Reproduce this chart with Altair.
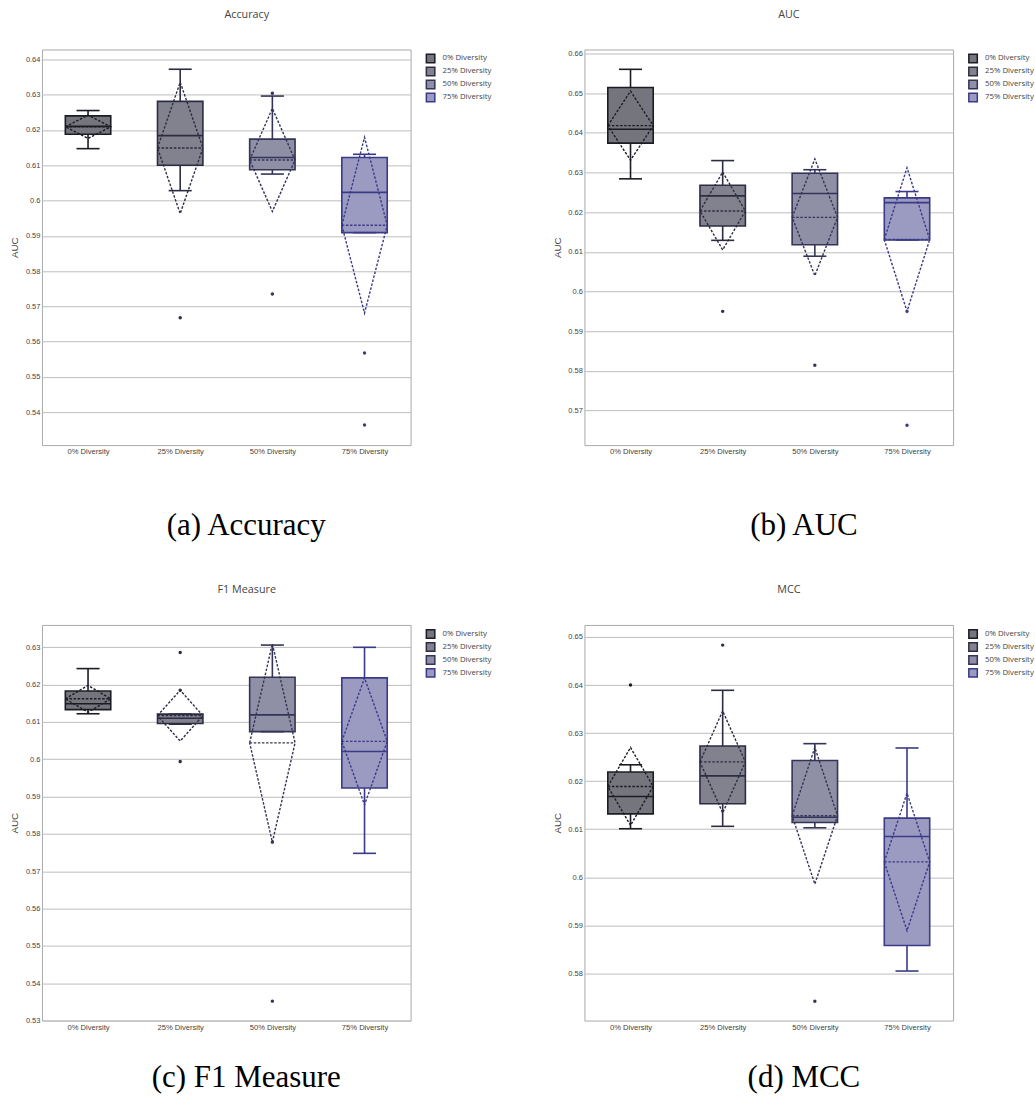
import json
import altair as alt
import pandas as pd

# ---------------- data ----------------
CATEGORIES = ["0% Diversity", "25% Diversity", "50% Diversity", "75% Diversity"]

# Accuracy
ACC_LOWER = [0.6147, 0.6028, 0.6075, 0.5909]
ACC_Q1 = [0.6188, 0.6100, 0.6087, 0.5909]
ACC_MEDIAN = [0.6210, 0.6184, 0.6122, 0.6023]
ACC_Q3 = [0.6240, 0.6281, 0.6174, 0.6122]
ACC_UPPER = [0.6255, 0.6372, 0.6296, 0.6131]
ACC_MEAN = [0.6209, 0.6149, 0.6115, 0.5930]
ACC_SD = [0.0033, 0.0186, 0.0146, 0.0249]
ACC_OUT_GROUP = [1, 2, 2, 3, 3]
ACC_OUT_VALUE = [0.5668, 0.6304, 0.5735, 0.5568, 0.5364]

# AUC
AUC_LOWER = [0.6284, 0.6129, 0.6089, 0.6130]
AUC_Q1 = [0.6374, 0.6165, 0.6118, 0.6130]
AUC_MEDIAN = [0.6409, 0.6241, 0.6247, 0.6224]
AUC_Q3 = [0.6514, 0.6268, 0.6298, 0.6236]
AUC_UPPER = [0.6560, 0.6330, 0.6307, 0.6252]
AUC_MEAN = [0.6418, 0.6203, 0.6187, 0.6131]
AUC_SD = [0.0087, 0.0098, 0.0147, 0.0181]
AUC_OUT_GROUP = [1, 2, 3, 3]
AUC_OUT_VALUE = [0.5950, 0.5814, 0.5950, 0.5663]

# F1 Measure
F1_LOWER = [0.6122, 0.6094, 0.6074, 0.5748]
F1_Q1 = [0.6133, 0.6096, 0.6074, 0.5923]
F1_MEDIAN = [0.6149, 0.6110, 0.6119, 0.6021]
F1_Q3 = [0.6183, 0.6121, 0.6220, 0.6218]
F1_UPPER = [0.6243, 0.6121, 0.6306, 0.6300]
F1_MEAN = [0.6162, 0.6117, 0.6044, 0.6048]
F1_SD = [0.0036, 0.0068, 0.0266, 0.0170]
F1_OUT_GROUP = [1, 1, 1, 2, 2]
F1_OUT_VALUE = [0.6286, 0.6185, 0.5994, 0.5778, 0.5352]

# MCC
MCC_LOWER = [0.6101, 0.6106, 0.6103, 0.5805]
MCC_Q1 = [0.6132, 0.6153, 0.6114, 0.5858]
MCC_MEDIAN = [0.6168, 0.6211, 0.6125, 0.6085]
MCC_Q3 = [0.6219, 0.6273, 0.6243, 0.6123]
MCC_UPPER = [0.6234, 0.6389, 0.6278, 0.6269]
MCC_MEAN = [0.6189, 0.6240, 0.6128, 0.6032]
MCC_SD = [0.0081, 0.0106, 0.0142, 0.0143]
MCC_OUT_GROUP = [0, 1, 2]
MCC_OUT_VALUE = [0.6400, 0.6483, 0.5742]

ACC_TICKS = [0.54, 0.55, 0.56, 0.57, 0.58, 0.59, 0.60, 0.61, 0.62, 0.63, 0.64]
AUC_TICKS = [0.57, 0.58, 0.59, 0.60, 0.61, 0.62, 0.63, 0.64, 0.65, 0.66]
F1_TICKS = [0.53, 0.54, 0.55, 0.56, 0.57, 0.58, 0.59, 0.60, 0.61, 0.62, 0.63]
MCC_TICKS = [0.58, 0.59, 0.60, 0.61, 0.62, 0.63, 0.64, 0.65]

ACC_DOMAIN = [0.5307, 0.6428]
AUC_DOMAIN = [0.5613, 0.6610]
F1_DOMAIN = [0.5300, 0.6360]
MCC_DOMAIN = [0.5702, 0.6525]

TITLES = ["Accuracy", "AUC", "F1 Measure", "MCC"]
CAPTIONS = ["(a) Accuracy", "(b) AUC", "(c) F1 Measure", "(d) MCC"]
Y_TITLE = "AUC"

# ---------------- styles ----------------
LINE_COLORS = ["#1c1c24", "#2c2c42", "#343458", "#3a3a88"]
FILL_COLORS = ["#75757d", "#82828f", "#8f8fa6", "#9b9bc2"]
HALF = 0.2464   # half box width, in category units
CAP = 0.125     # half whisker-cap width
PANEL_W, PANEL_H = 369, 396
TEXT_GREY = "#444444"
DASH = [2.5, 1.6]


def panel(title, caption, lower, q1, med, q3, upper, mean, sd, out_g, out_v,
          domain, ticks, title_x, cap_x, cap_y, anchor=False):
    idx = list(range(len(CATEGORIES)))
    boxes = pd.DataFrame({"group": CATEGORIES, "i": idx, "lower": lower, "q1": q1,
                          "median": med, "q3": q3, "upper": upper,
                          "mean": mean, "sd": sd})
    boxes["xl"] = boxes["i"] - HALF
    boxes["xr"] = boxes["i"] + HALF
    boxes["cl"] = boxes["i"] - CAP
    boxes["cr"] = boxes["i"] + CAP
    boxes["line"] = LINE_COLORS

    rows = []
    for _, r in boxes.iterrows():
        pts = [(r.xl, r["mean"]), (r.i, r["mean"] + r.sd), (r.xr, r["mean"]),
               (r.i, r["mean"] - r.sd), (r.xl, r["mean"])]
        for k, (xx, yy) in enumerate(pts):
            rows.append({"group": r.group, "k": k, "x": xx, "y": yy, "line": r.line})
    diamond = pd.DataFrame(rows)

    outl = pd.DataFrame({"i": out_g, "v": out_v})
    outl["line"] = [LINE_COLORS[g] for g in out_g]

    xscale = alt.Scale(domain=[-0.5, len(CATEGORIES) - 0.5], nice=False, zero=False)
    yscale = alt.Scale(domain=domain, nice=False, zero=False)
    label_expr = json.dumps(CATEGORIES) + "[datum.value]"
    xaxis = alt.Axis(values=idx, labelExpr=label_expr, grid=False, ticks=False,
                     domain=False, labelPadding=2.5, title=None,
                     labelFont="Liberation Sans", labelFontSize=7.6,
                     labelColor=TEXT_GREY)
    yaxis = alt.Axis(values=ticks, format=".2~f", grid=True, gridColor="#bdbdbd",
                     gridWidth=1, ticks=False, domain=False, labelPadding=2,
                     labelFont="Liberation Sans", labelFontSize=7.5,
                     labelColor=TEXT_GREY, title=Y_TITLE,
                     titleFont="Liberation Sans", titleFontSize=9.8,
                     titleFontWeight="normal", titleColor=TEXT_GREY,
                     titlePadding=5.5)

    def X(f):
        return alt.X(f, type="quantitative", scale=xscale, axis=xaxis)

    def Y(f):
        return alt.Y(f, type="quantitative", scale=yscale, axis=yaxis)

    legend = alt.Legend(title=None, orient="none", legendX=384, legendY=4,
                        symbolType="square", symbolSize=72, symbolStrokeWidth=1.5,
                        labelFont="Open Sans", labelFontSize=7.8,
                        labelColor=TEXT_GREY, labelOffset=7, rowPadding=-4.4,
                        padding=0)

    base = alt.Chart(boxes)
    line_stroke = alt.Stroke("line:N", scale=None)

    box = base.mark_rect(strokeWidth=1.6).encode(
        x=X("xl"), x2="xr", y=Y("q1"), y2="q3",
        fill=alt.Fill("group:N", scale=alt.Scale(domain=CATEGORIES, range=FILL_COLORS),
                      legend=legend),
        stroke=alt.Stroke("group:N", scale=alt.Scale(domain=CATEGORIES, range=LINE_COLORS),
                          legend=legend),
    )
    whisk_hi = base.mark_rule(strokeWidth=1.6).encode(
        x=X("i"), y=Y("q3"), y2="upper", stroke=line_stroke)
    whisk_lo = base.mark_rule(strokeWidth=1.6).encode(
        x=X("i"), y=Y("lower"), y2="q1", stroke=line_stroke)
    cap_hi = base.mark_rule(strokeWidth=1.6).encode(
        x=X("cl"), x2="cr", y=Y("upper"), stroke=line_stroke)
    cap_lo = base.mark_rule(strokeWidth=1.6).encode(
        x=X("cl"), x2="cr", y=Y("lower"), stroke=line_stroke)
    median_r = base.mark_rule(strokeWidth=1.6).encode(
        x=X("xl"), x2="xr", y=Y("median"), stroke=line_stroke)
    mean_r = base.mark_rule(strokeWidth=1.4, strokeDash=DASH).encode(
        x=X("xl"), x2="xr", y=Y("mean"), stroke=line_stroke)
    dia = alt.Chart(diamond).mark_line(strokeWidth=1.4, strokeDash=DASH).encode(
        x=X("x"), y=Y("y"), detail="group:N", order="k:Q", stroke=line_stroke)
    pts = alt.Chart(outl).mark_circle(size=12, opacity=1).encode(
        x=X("i"), y=Y("v"), fill=alt.Fill("line:N", scale=None))

    txt = pd.DataFrame({"title": [title], "caption": [caption]})
    ttl = alt.Chart(txt).mark_text(font="Open Sans", fontSize=10.8, color=TEXT_GREY,
                                   align="center", baseline="alphabetic").encode(
        text="title:N", x=alt.value(title_x), y=alt.value(-31.5))
    cap = alt.Chart(txt).mark_text(font="Liberation Serif", fontSize=31, color="#000000",
                                   align="center", baseline="alphabetic").encode(
        text="caption:N", x=alt.value(cap_x), y=alt.value(cap_y))

    layers = [box, whisk_hi, whisk_lo, cap_hi, cap_lo, median_r, mean_r, dia, pts, ttl, cap]
    if anchor:
        # tiny white square pinning the top-left corner of the page
        anc = alt.Chart(pd.DataFrame({"a": [0]})).mark_square(
            size=1, color="#ffffff", opacity=1).encode(
            x=alt.value(-41), y=alt.value(-47.2))
        layers.append(anc)
    return alt.layer(*layers).properties(width=PANEL_W, height=PANEL_H)


p_acc = panel(TITLES[0], CAPTIONS[0], ACC_LOWER, ACC_Q1, ACC_MEDIAN, ACC_Q3, ACC_UPPER,
              ACC_MEAN, ACC_SD, ACC_OUT_GROUP, ACC_OUT_VALUE, ACC_DOMAIN, ACC_TICKS,
              205, 204.5, 485.6, anchor=True)
p_auc = panel(TITLES[1], CAPTIONS[1], AUC_LOWER, AUC_Q1, AUC_MEDIAN, AUC_Q3, AUC_UPPER,
              AUC_MEAN, AUC_SD, AUC_OUT_GROUP, AUC_OUT_VALUE, AUC_DOMAIN, AUC_TICKS,
              204.7, 219.7, 485.6)
p_f1 = panel(TITLES[2], CAPTIONS[2], F1_LOWER, F1_Q1, F1_MEDIAN, F1_Q3, F1_UPPER,
             F1_MEAN, F1_SD, F1_OUT_GROUP, F1_OUT_VALUE, F1_DOMAIN, F1_TICKS,
             205, 204.5, 463)
p_mcc = panel(TITLES[3], CAPTIONS[3], MCC_LOWER, MCC_Q1, MCC_MEDIAN, MCC_Q3, MCC_UPPER,
              MCC_MEAN, MCC_SD, MCC_OUT_GROUP, MCC_OUT_VALUE, MCC_DOMAIN, MCC_TICKS,
              204.7, 219.7, 463)

chart = alt.concat(p_acc, p_auc, p_f1, p_mcc, columns=2,
                   spacing=alt.RowColnumber(row=180, column=174),
                   bounds="flush").resolve_scale(
    x="independent", y="independent", fill="independent", stroke="independent"
).resolve_legend(fill="independent", stroke="independent").configure_view(
    stroke="#aaaaaa", strokeWidth=1
).properties(padding=0, background="#ffffff")

chart.save("out.html", embed_options={"renderer": "svg", "actions": False})
